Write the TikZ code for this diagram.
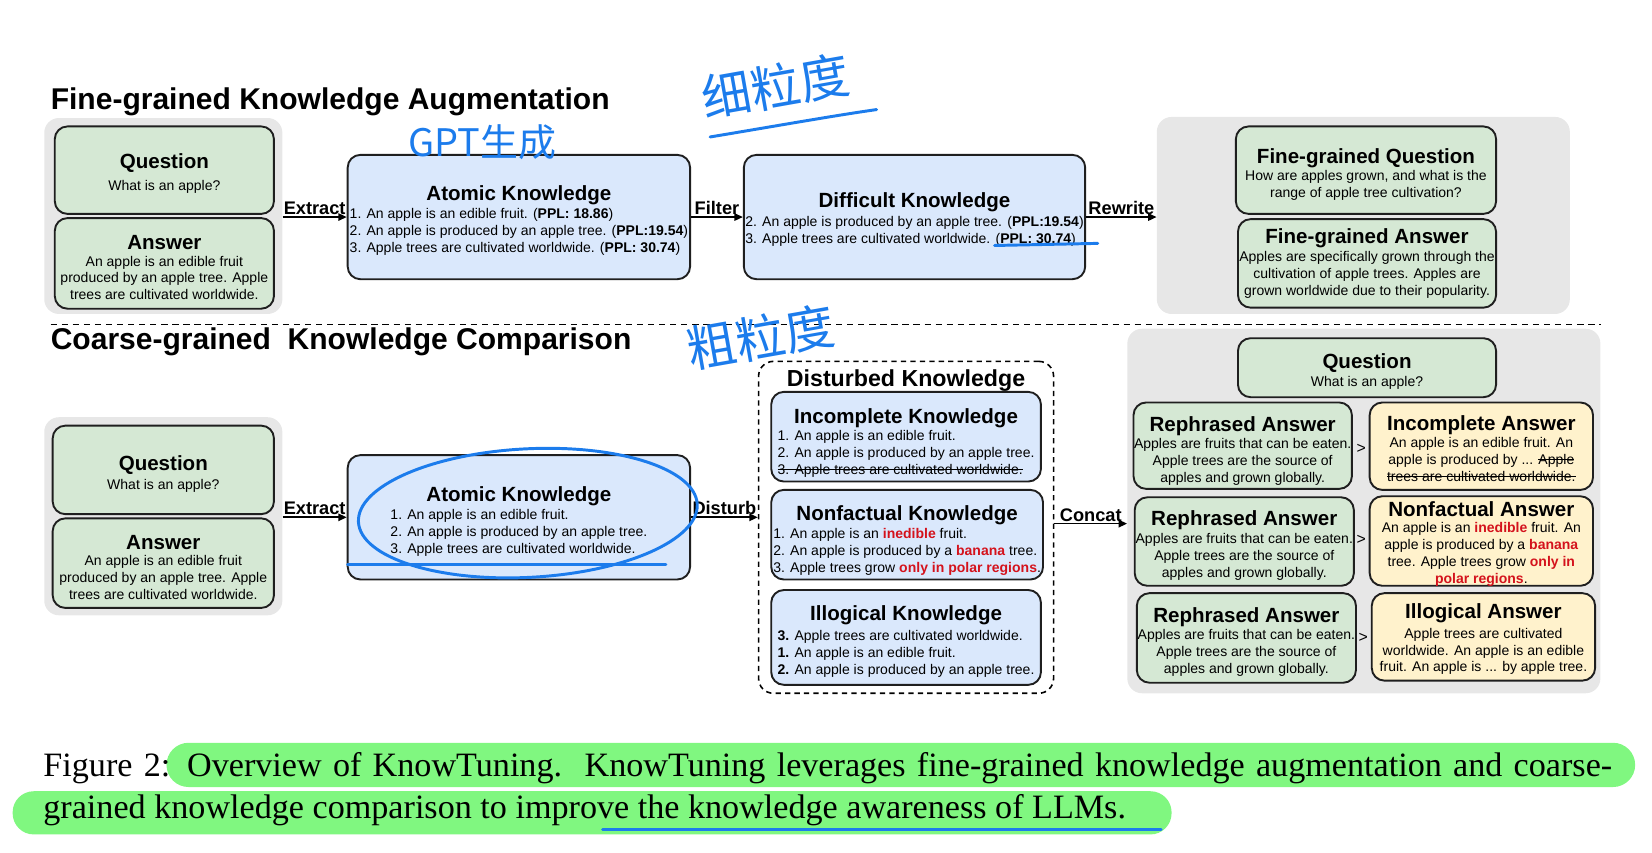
\documentclass[tikz,border=0pt]{standalone}
\usepackage{fontspec}
\setmainfont{Liberation Sans}
\newfontfamily\capfont{Liberation Serif}
\newfontfamily\penfont{Noto Sans CJK SC}
\usetikzlibrary{positioning,arrows.meta,calc}

\definecolor{qgreen}{RGB}{213,232,212}
\definecolor{kblue}{RGB}{218,232,252}
\definecolor{ayellow}{RGB}{255,242,204}
\definecolor{pgray}{RGB}{231,231,231}
\definecolor{wrong}{RGB}{212,18,28}
\definecolor{penblue}{RGB}{28,124,236}
\definecolor{hilite}{RGB}{128,247,128}

\newcommand\secfont{\fontsize{28.5}{32}\selectfont\bfseries}
\newcommand\hdfont{\fontsize{19.5}{22}\selectfont\bfseries}
\newcommand\lblfont{\fontsize{17.3}{20}\selectfont\bfseries}
\newcommand\bodyfont{\fontsize{13.3}{16}\selectfont}
\newcommand\hd[2][21.3pt]{{\hdfont\rule{0pt}{#1}#2}}
\newcommand\klist[1]{\begin{tabular}[t]{@{}l@{}}#1\end{tabular}}
\newcommand\bad[1]{\textcolor{wrong}{\textbf{#1}}}
\newcommand\crossout[1]{\setbox0\hbox{#1}\rlap{\rule[0.3em]{\wd0}{0.9pt}}\box0}

\begin{document}
\begin{tikzpicture}[
    x=1pt, y=-1pt,
    panel/.style={fill=pgray, rounded corners=14pt, inner sep=0pt},
    card/.style={draw=black!88, line width=1.8pt, rounded corners=12pt, align=center, inner xsep=0.5pt, inner ysep=2pt, font=\bodyfont},
    qbox/.style={card, fill=qgreen},
    kbox/.style={card, fill=kblue},
    abox/.style={card, fill=ayellow},
    flow/.style={-{Triangle[length=8pt,width=7pt]}, line width=1.6pt},
    lbl/.style={font=\lblfont, inner sep=1.5pt, above},
    sepline/.style={line width=1.8pt, dash pattern=on 6pt off 4.5pt},
    penline/.style={draw=penblue, line width=2.8pt, line cap=round},
    pennote/.style={text=penblue, inner sep=0pt}
]
\useasboundingbox (0,0) rectangle (1568,809);

\node[anchor=base west, font=\secfont, inner sep=0pt] (fgtitle) at (48,104) {Fine-grained Knowledge Augmentation};
\node[panel, minimum width=226pt, minimum height=186pt] (fgsrc) at (155,205) {};
\node[qbox, minimum width=208pt, minimum height=83pt] (fgq) at (156,161.5) {\hd{Question}\\[5pt]What is an apple?};
\node[qbox, minimum width=208pt, minimum height=86pt] (fga) at (156,250) {\hd{Answer}\\An apple is an edible fruit\\produced by an apple tree. Apple\\trees are cultivated worldwide.};
\node[kbox, minimum width=325pt, minimum height=118pt] (fgatom) at (492.5,206) {\hd[22.3pt]{Atomic Knowledge}\\[1pt]\klist{1. An apple is an edible fruit. (\textbf{PPL: 18.86})\\2. An apple is produced by an apple tree. (\textbf{PPL:19.54})\\3. Apple trees are cultivated worldwide. (\textbf{PPL: 30.74})}};
\node[kbox, minimum width=324pt, minimum height=118pt] (fgdiff) at (868,206) {\hd{Difficult Knowledge}\\[2pt]\klist{2. An apple is produced by an apple tree. (\textbf{PPL:19.54})\\3. Apple trees are cultivated worldwide. (\textbf{PPL: 30.74})}};
\node[panel, minimum width=392pt, minimum height=187pt] (fgout) at (1294,204.5) {};
\node[qbox, minimum width=247pt, minimum height=83pt] (fgnewq) at (1296.5,161.5) {\hd[22.3pt]{Fine-grained Question}\\[1pt]How are apples grown, and what is the\\range of apple tree cultivation?};
\node[qbox, minimum width=245pt, minimum height=84pt] (fgnewa) at (1297.5,250) {\hd[0pt]{Fine-grained Answer}\\[1pt]Apples are specifically grown through the\\cultivation of apple trees. Apples are\\grown worldwide due to their popularity.};

\draw[flow] (fgsrc.east |- fgatom.west) -- node[lbl]{Extract} (fgatom.west);
\draw[flow] (fgatom) -- node[lbl]{Filter} (fgdiff);
\draw[flow] (fgdiff.east) -- node[lbl]{Rewrite} (fgout.west |- fgdiff.east);

\coordinate (sepl) at (48,308);
\coordinate (sepr) at (1520,308);
\draw[sepline] (sepl) -- (sepr);

\node[anchor=base west, font=\secfont, inner sep=0pt] (cgtitle) at (48,332) {Coarse-grained\ \ Knowledge Comparison};
\node[panel, minimum width=226pt, minimum height=188pt] (cgsrc) at (155,490) {};
\node[qbox, minimum width=210pt, minimum height=84pt] (cgq) at (155,446) {\hd{Question}\\[2pt]What is an apple?};
\node[qbox, minimum width=210pt, minimum height=85pt] (cga) at (155,534.5) {\hd{Answer}\\An apple is an edible fruit\\produced by an apple tree. Apple\\trees are cultivated worldwide.};
\node[kbox, minimum width=325pt, minimum height=118pt] (cgatom) at (492.5,491) {\hd[24.3pt]{Atomic Knowledge}\\[1pt]\klist{1. An apple is an edible fruit.\\2. An apple is produced by an apple tree.\\3. Apple trees are cultivated worldwide.}};

\node[draw, line width=1.5pt, dash pattern=on 5pt off 4pt, rounded corners=14pt, minimum width=280pt, minimum height=315pt] (disturbed) at (860,500.5) {};
\node[font=\fontsize{22}{24}\selectfont\bfseries, inner sep=0pt] (disttitle) at (860,361) {Disturbed Knowledge};
\node[kbox, minimum width=256pt, minimum height=81pt] (incomp) at (860,414.5) {\hd[28.3pt]{Incomplete Knowledge}\\\klist{1. An apple is an edible fruit.\\2. An apple is produced by an apple tree.\\\crossout{3. Apple trees are cultivated worldwide.}}};
\node[kbox, minimum width=258pt, minimum height=85pt] (nonfact) at (861,507.5) {\hd[27.3pt]{Nonfactual Knowledge}\\[1pt]\klist{1. An apple is an \bad{inedible} fruit.\\2. An apple is produced by a \bad{banana} tree.\\3. Apple trees grow \bad{only in polar regions}.}};
\node[kbox, minimum width=256pt, minimum height=90pt] (illog) at (860,605) {\hd[24.3pt]{Illogical Knowledge}\\[3pt]\klist{\textbf{3.} Apple trees are cultivated worldwide.\\\textbf{1.} An apple is an edible fruit.\\\textbf{2.} An apple is produced by an apple tree.}};

\node[panel, minimum width=449pt, minimum height=346pt] (cgout) at (1294.5,485) {};
\node[qbox, minimum width=245pt, minimum height=56pt] (cgoutq) at (1297.5,349) {\hd{Question}\\[1pt]What is an apple?};
\node[qbox, minimum width=207pt, minimum height=82pt] (reph1) at (1179.5,423) {\hd[24.3pt]{Rephrased Answer}\\Apples are fruits that can be eaten.\\Apple trees are the source of\\apples and grown globally.};
\node[abox, minimum width=212pt, minimum height=83pt] (incans) at (1406,423.5) {\hd[18.3pt]{Incomplete Answer}\\An apple is an edible fruit. An\\apple is produced by ... \crossout{Apple}\\\crossout{trees are cultivated worldwide.}};
\node[qbox, minimum width=208pt, minimum height=84pt] (reph2) at (1181,514) {\hd{Rephrased Answer}\\[1pt]Apples are fruits that can be eaten.\\Apple trees are the source of\\apples and grown globally.};
\node[abox, minimum width=212pt, minimum height=85pt] (nfans) at (1406,513.5) {};
\node[anchor=north, align=center, font=\bodyfont, inner sep=0pt] (nfanstext) at (1406,475.5) {{\hdfont Nonfactual Answer}\\An apple is an \bad{inedible} fruit. An\\apple is produced by a \bad{banana}\\tree. Apple trees grow \bad{only in}\\\bad{polar regions}.};
\node[qbox, minimum width=208pt, minimum height=85pt] (reph3) at (1183,605.5) {\hd{Rephrased Answer}\\Apples are fruits that can be eaten.\\Apple trees are the source of\\apples and grown globally.};
\node[abox, minimum width=212pt, minimum height=83pt] (illans) at (1408,604.5) {\hd[18.3pt]{Illogical Answer}\\[3pt]Apple trees are cultivated\\worldwide. An apple is an edible\\fruit. An apple is ... by apple tree.};
\node[font=\fontsize{15}{16}\selectfont, inner sep=0pt] (gtone) at (1292,426) {>};
\node[font=\fontsize{15}{16}\selectfont, inner sep=0pt] (gttwo) at (1292,512) {>};
\node[font=\fontsize{15}{16}\selectfont, inner sep=0pt] (gtthree) at (1294,605) {>};

\coordinate (concatfrom) at ([yshift=3.5pt]disturbed.east);
\draw[flow] (cgsrc.east |- cgatom.west) -- node[lbl]{Extract} (cgatom.west);
\draw[flow] (cgatom.east) -- node[lbl]{Disturb} (disturbed.west |- cgatom.east);
\draw[flow] (concatfrom) -- node[lbl]{Concat} (concatfrom -| cgout.west);

\node[fill=hilite, rounded corners=21pt, minimum width=1394pt, minimum height=42pt, inner sep=0pt] (hlone) at (855,726) {};
\node[fill=hilite, rounded corners=20pt, minimum width=1100pt, minimum height=41pt, inner sep=0pt] (hltwo) at (562,771.5) {};
\node[anchor=base west, inner sep=0pt, font=\capfont\fontsize{32.4}{38}\selectfont] (capone) at (41,737) {\makebox[1489pt][s]{Figure 2: Overview of KnowTuning.\ \ KnowTuning leverages fine-grained knowledge augmentation and coarse-}};
\node[anchor=base west, inner sep=0pt, font=\capfont\fontsize{32.4}{38}\selectfont] (captwo) at (41,777) {grained knowledge comparison to improve the knowledge awareness of LLMs.};

\node[pennote, font=\penfont\fontsize{36}{36}\selectfont] (gptnote) at (458,135) {GPT生成};
\node[pennote, font=\penfont\fontsize{47}{47}\selectfont, rotate=10] (finenote) at (736,82) {细粒度};
\node[pennote, font=\penfont\fontsize{47}{47}\selectfont, rotate=10] (coarsenote) at (722,320) {粗粒度};
\draw[penline] (674,130) .. controls (740,119) and (790,110) .. (832,104);
\draw[penline, rotate around={3:(501,487)}] (501,487) ellipse [x radius=161pt, y radius=61pt];
\draw[penline] (330,536) -- (632,536);
\draw[penline] (944,233) -- (1042,231);
\draw[penline] (572,787) -- (1102,787);
\end{tikzpicture}
\end{document}
